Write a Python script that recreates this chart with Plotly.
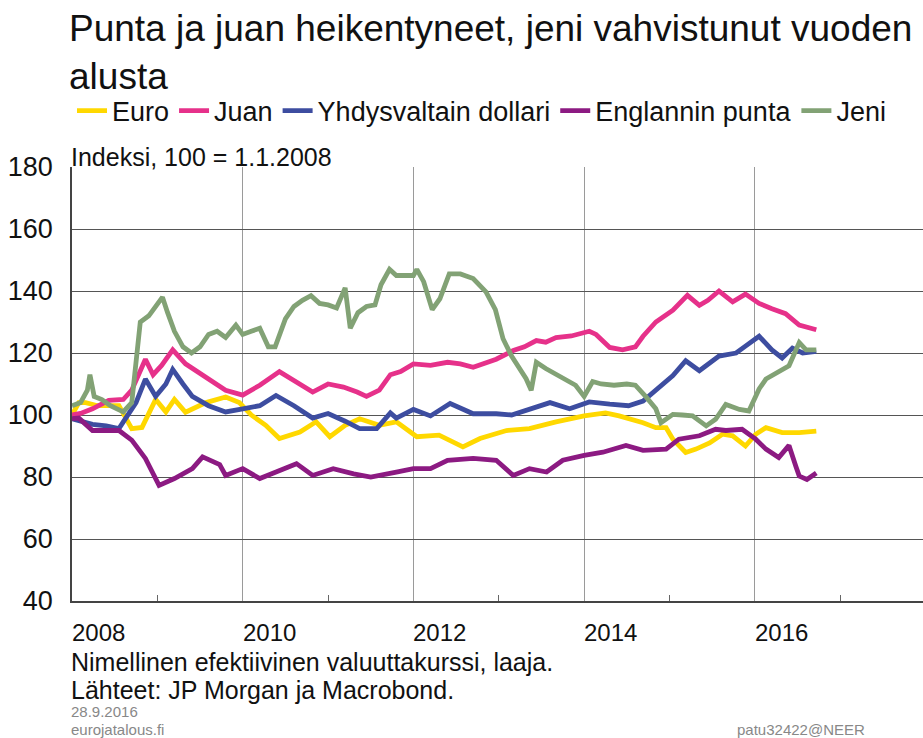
import plotly.graph_objects as go

# ---- data (x in decimal years) ----
euro_x = [2008.0, 2008.08, 2008.16, 2008.3, 2008.55, 2008.7, 2008.82, 2008.98, 2009.1, 2009.2, 2009.33, 2009.57, 2009.8, 2009.96, 2010.1, 2010.27, 2010.43, 2010.67, 2010.86, 2011.02, 2011.2, 2011.37, 2011.6, 2011.8, 2012.04, 2012.3, 2012.58, 2012.78, 2013.09, 2013.36, 2013.67, 2014.0, 2014.25, 2014.41, 2014.69, 2014.84, 2014.96, 2015.04, 2015.19, 2015.31, 2015.47, 2015.62, 2015.74, 2015.89, 2016.01, 2016.13, 2016.32, 2016.52, 2016.72]
euro_y = [100, 104, 104, 103, 103, 95.6, 96, 105, 101, 105, 100.9, 104, 105.8, 104, 100, 96.7, 92.4, 94.5, 97.8, 93, 96.7, 98.8, 96.7, 97.8, 93, 93.5, 89.7, 92.4, 95, 95.6, 97.8, 99.7, 100.7, 99.7, 97.5, 95.9, 95.9, 92.2, 87.9, 89, 91, 93.8, 93.3, 90, 93.8, 95.9, 94.3, 94.3, 94.8]

juan_x = [2008.0, 2008.1, 2008.24, 2008.43, 2008.6, 2008.7, 2008.86, 2008.95, 2009.05, 2009.18, 2009.33, 2009.53, 2009.68, 2009.8, 2010.0, 2010.2, 2010.43, 2010.6, 2010.82, 2011.0, 2011.18, 2011.34, 2011.45, 2011.6, 2011.73, 2011.85, 2012.0, 2012.2, 2012.4, 2012.55, 2012.7, 2012.97, 2013.17, 2013.3, 2013.44, 2013.55, 2013.67, 2013.85, 2014.06, 2014.14, 2014.3, 2014.45, 2014.6, 2014.69, 2014.84, 2015.04, 2015.21, 2015.35, 2015.45, 2015.58, 2015.74, 2015.89, 2016.05, 2016.2, 2016.36, 2016.52, 2016.72]
juan_y = [100, 100.5, 102, 104.7, 105, 108, 118, 113, 116, 121, 116.5, 112.8, 110, 108, 106.4, 109.6, 114, 111, 107.4, 110, 109, 107.4, 106, 108, 113, 114, 116.5, 116, 117, 116.5, 115.4, 118, 120.8, 122, 124, 123.5, 125, 125.5, 127, 126, 121.8, 121, 122, 125.4, 130, 133.8, 138.6, 135.4, 137, 140, 136.5, 139, 136, 134.3, 132.7, 129, 127.5]

usd_x = [2008.0, 2008.1, 2008.24, 2008.4, 2008.55, 2008.63, 2008.75, 2008.86, 2008.98, 2009.1, 2009.18, 2009.3, 2009.41, 2009.6, 2009.8, 2010.0, 2010.2, 2010.39, 2010.6, 2010.82, 2011.0, 2011.2, 2011.37, 2011.57, 2011.73, 2011.8, 2012.0, 2012.2, 2012.43, 2012.7, 2012.97, 2013.15, 2013.36, 2013.6, 2013.83, 2014.06, 2014.3, 2014.52, 2014.69, 2014.84, 2015.04, 2015.19, 2015.35, 2015.58, 2015.78, 2015.89, 2016.05, 2016.2, 2016.32, 2016.44, 2016.56, 2016.72]
usd_y = [98.8, 98, 97, 96.5, 95.6, 99, 104, 111.6, 106, 110, 114.7, 110, 106, 103, 101, 102, 103, 106.3, 103, 99, 100.5, 98, 95.6, 95.6, 100.7, 99, 101.8, 99.7, 103.7, 100.4, 100.4, 100, 101.8, 104, 102, 104.2, 103.5, 103, 104.5, 108, 112.7, 117.5, 114.3, 119, 120, 122.2, 125.4, 121, 118.4, 121.6, 120, 120.5]

gbp_x = [2008.0, 2008.08, 2008.24, 2008.55, 2008.7, 2008.86, 2009.02, 2009.2, 2009.41, 2009.53, 2009.73, 2009.8, 2010.0, 2010.2, 2010.39, 2010.63, 2010.82, 2011.06, 2011.3, 2011.5, 2011.8, 2012.0, 2012.2, 2012.4, 2012.7, 2012.97, 2013.17, 2013.36, 2013.56, 2013.75, 2014.0, 2014.22, 2014.49, 2014.69, 2014.96, 2015.11, 2015.35, 2015.54, 2015.66, 2015.85, 2016.01, 2016.13, 2016.28, 2016.4, 2016.48, 2016.52, 2016.61, 2016.72]
gbp_y = [98.8, 99, 95, 95, 91.9, 86, 77.3, 79.5, 82.7, 86.5, 84, 80.5, 82.7, 79.5, 81.6, 84.3, 80.5, 82.7, 81, 80, 81.6, 82.7, 82.7, 85.4, 86, 85.4, 80.5, 82.7, 81.6, 85.4, 87, 88, 90.2, 88.6, 89, 92.2, 93.3, 95.4, 95, 95.4, 92.2, 89, 86.3, 90.2, 83.5, 80.3, 79.2, 81.3]

jeni_x = [2008.0, 2008.1, 2008.18, 2008.21, 2008.26, 2008.35, 2008.45, 2008.6, 2008.7, 2008.75, 2008.8, 2008.9, 2008.98, 2009.06, 2009.12, 2009.2, 2009.3, 2009.4, 2009.5, 2009.6, 2009.7, 2009.8, 2009.92, 2010.0, 2010.1, 2010.2, 2010.3, 2010.38, 2010.5, 2010.6, 2010.7, 2010.8, 2010.9, 2011.0, 2011.1, 2011.2, 2011.26, 2011.35, 2011.45, 2011.55, 2011.62, 2011.72, 2011.8, 2011.9, 2012.0, 2012.04, 2012.12, 2012.22, 2012.31, 2012.42, 2012.55, 2012.7, 2012.85, 2012.96, 2013.05, 2013.15, 2013.24, 2013.32, 2013.38, 2013.44, 2013.55, 2013.68, 2013.8, 2013.9, 2014.0, 2014.1, 2014.2, 2014.35, 2014.5, 2014.6, 2014.72, 2014.84, 2014.9, 2015.04, 2015.15, 2015.27, 2015.43, 2015.54, 2015.66, 2015.82, 2015.93, 2016.05, 2016.13, 2016.28, 2016.4, 2016.52, 2016.6, 2016.72]
jeni_y = [103, 104, 108, 113, 106, 105, 103, 101, 104, 118, 130, 132, 135, 138, 133, 127, 122, 120, 122, 126, 127, 125, 129, 126, 127, 128, 122, 122, 131, 135, 137, 138.5, 136, 135.5, 134.5, 141, 128, 133, 135, 135.5, 142, 147, 145, 145, 145, 147, 143, 134, 137.5, 145.5, 145.5, 144, 139.7, 134, 124.6, 119, 115, 111.7, 108, 117, 115, 113, 111, 109.6, 106, 110.8, 110, 109.6, 110, 109.6, 106, 102, 97.5, 100.2, 100, 99.7, 96.5, 98.6, 103.4, 101.8, 101.3, 108.4, 111.6, 113.8, 115.9, 123.4, 121, 121]

series_names = ["Euro", "Juan", "Yhdysvaltain dollari", "Englannin punta", "Jeni"]
series_colors = ["#FFD800", "#E6318A", "#3D4DA0", "#8C1A82", "#82A275"]

x_tick_years = [2008, 2010, 2012, 2014, 2016]
x_tick_labels = ["2008", "2010", "2012", "2014", "2016"]
minor_years = [2009, 2011, 2013, 2015, 2017]

FONT = "Liberation Sans, Arial, sans-serif"

fig = go.Figure()
for name, col, xs, ys in zip(series_names, series_colors,
                             [euro_x, juan_x, usd_x, gbp_x, jeni_x],
                             [euro_y, juan_y, usd_y, gbp_y, jeni_y]):
    fig.add_trace(go.Scatter(x=xs, y=ys, mode="lines", name=name,
                             line=dict(color=col, width=4.8)))

W, H = 923, 738
L, R, T, B = 72, 0, 167, 137
ph = H - T - B

def py(pix):
    return (H - B - pix) / ph

annotations = []
for yr, lab in zip(x_tick_years, x_tick_labels):
    annotations.append(dict(x=yr, y=py(632), xref="x", yref="paper", text=lab,
                            showarrow=False, xanchor="left", yanchor="middle",
                            xshift=-2,
                            font=dict(size=24, color="#111", family=FONT)))
annotations += [
    dict(x=0, y=py(157), xref="paper", yref="paper", text="Indeksi, 100 = 1.1.2008",
         showarrow=False, xanchor="left", yanchor="middle", xshift=-3,
         font=dict(size=25, color="#111", family=FONT)),
    dict(x=0, y=py(662), xref="paper", yref="paper",
         text="Nimellinen efektiivinen valuuttakurssi, laaja.",
         showarrow=False, xanchor="left", yanchor="middle", xshift=-3,
         font=dict(size=25, color="#111", family=FONT)),
    dict(x=0, y=py(690), xref="paper", yref="paper",
         text="Lähteet: JP Morgan ja Macrobond.",
         showarrow=False, xanchor="left", yanchor="middle", xshift=-3,
         font=dict(size=25, color="#111", family=FONT)),
    dict(x=0, y=py(711), xref="paper", yref="paper", text="28.9.2016",
         showarrow=False, xanchor="left", yanchor="middle", xshift=-3,
         font=dict(size=15, color="#888", family=FONT)),
    dict(x=0, y=py(729), xref="paper", yref="paper", text="eurojatalous.fi",
         showarrow=False, xanchor="left", yanchor="middle", xshift=-3,
         font=dict(size=15, color="#888", family=FONT)),
    dict(x=(735 - L) / (W - L - R), y=py(729), xref="paper", yref="paper",
         text="patu32422@NEER",
         showarrow=False, xanchor="left", yanchor="middle",
         font=dict(size=15, color="#888", family=FONT)),
]

fig.update_layout(
    width=W, height=H,
    margin=dict(l=L, r=R, t=T, b=B),
    paper_bgcolor="white", plot_bgcolor="white",
    font=dict(family=FONT, color="#111"),
    title=dict(text="Punta ja juan heikentyneet, jeni vahvistunut vuoden<br>alusta",
               x=(L - 3) / W, xanchor="left", xref="container",
               y=1 - 41 / H, yanchor="top", yref="container",
               font=dict(size=37, color="#111", family=FONT)),
    legend=dict(orientation="h", x=0, xanchor="left", y=py(111), yanchor="middle",
                font=dict(size=27, color="#111", family=FONT),
                itemwidth=30, tracegroupgap=0, bgcolor="rgba(0,0,0,0)"),
    showlegend=True,
    annotations=annotations,
)
fig.update_xaxes(range=[2008, 2017.97], tickmode="array", tickvals=x_tick_years[1:],
                 showticklabels=False, ticks="",
                 showgrid=True, gridcolor="#9a9a9a", gridwidth=1.2,
                 showline=True, linecolor="#444", linewidth=1.5, mirror=False,
                 zeroline=False,
                 minor=dict(tickmode="array", tickvals=minor_years, ticks="inside",
                            ticklen=6, tickcolor="#666", tickwidth=1, showgrid=False))
fig.update_yaxes(range=[40, 180], tickmode="array", tickvals=[40, 60, 80, 100, 120, 140, 160, 180],
                 ticks="", ticklabelstandoff=12,
                 tickfont=dict(size=27, color="#111", family=FONT),
                 showgrid=True, gridcolor="#555", gridwidth=1.2,
                 showline=True, linecolor="#444", linewidth=1.5,
                 zeroline=False)

fig.write_html("out.html", config={"displayModeBar": False},
               post_script="document.body.style.margin='0';document.body.style.overflow='hidden';")
